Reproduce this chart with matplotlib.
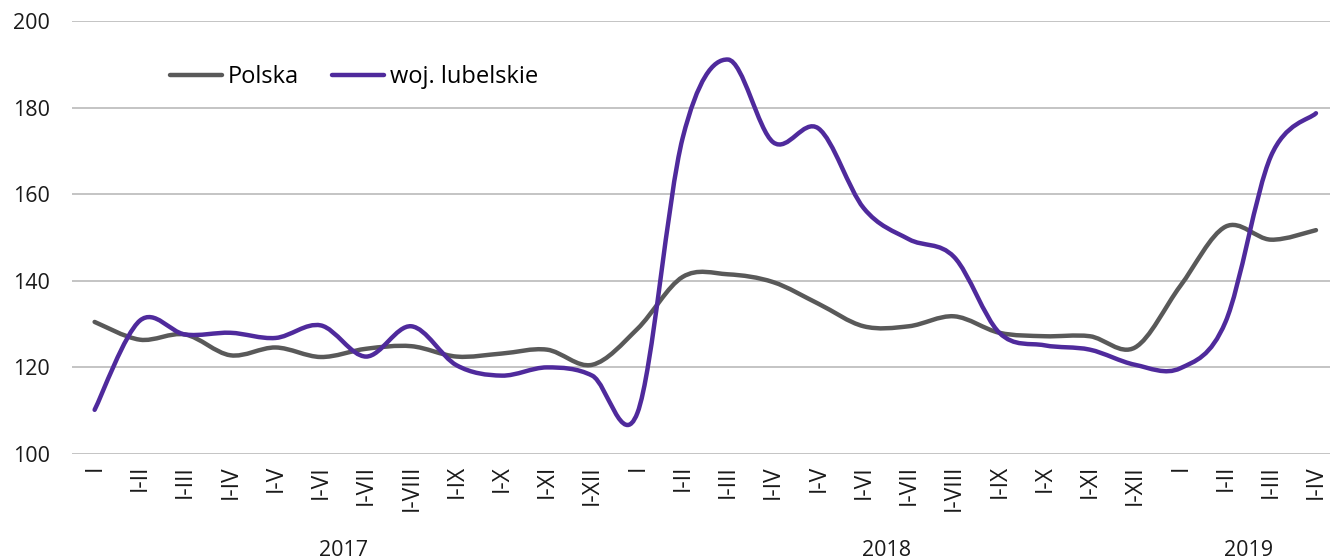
import matplotlib
matplotlib.use("Agg")
import matplotlib.pyplot as plt
from matplotlib.path import Path
from matplotlib.patches import PathPatch
from matplotlib.lines import Line2D
from matplotlib.transforms import blended_transform_factory

plt.rcParams['font.family'] = ['Open Sans', 'DejaVu Sans']

# okresy narastające
miesiace = ["I", "I-II", "I-III", "I-IV", "I-V", "I-VI", "I-VII", "I-VIII",
            "I-IX", "I-X", "I-XI", "I-XII"]
etykiety = miesiace + miesiace + miesiace[:4]
lata = ["2017", "2018", "2019"]
dlugosci_lat = [12, 12, 4]

polska = [130.5, 126.4, 127.6, 122.8, 124.6, 122.4, 124.3, 124.9,
          122.5, 123.2, 124.1, 120.6, 128.9, 140.9, 141.5, 139.7,
          134.7, 129.5, 129.5, 131.8, 128.0, 127.2, 127.2, 124.6,
          138.8, 152.5, 149.5, 151.7]
lubelskie = [110.2, 130.8, 127.6, 128.0, 126.8, 129.7, 122.5, 129.5,
             120.5, 118.1, 120.0, 118.1, 109.5, 173.0, 191.1, 172.0,
             175.2, 156.8, 149.6, 145.5, 128.0, 125.1, 124.1, 120.6,
             119.8, 130.5, 168.7, 178.7]

KOLOR_PL = "#595959"
KOLOR_LUB = "#4f2a9c"
FS = 15.5


def gladka_sciezka(ys):
    # krzywa Beziera jak "wygładzona linia" w Excelu (Catmull-Rom)
    pts = list(enumerate(ys))
    n = len(pts)
    verts = [pts[0]]
    codes = [Path.MOVETO]
    for i in range(n - 1):
        p0 = pts[max(i - 1, 0)]
        p1 = pts[i]
        p2 = pts[i + 1]
        p3 = pts[min(i + 2, n - 1)]
        c1 = (p1[0] + (p2[0] - p0[0]) / 6, p1[1] + (p2[1] - p0[1]) / 6)
        c2 = (p2[0] - (p3[0] - p1[0]) / 6, p2[1] - (p3[1] - p1[1]) / 6)
        verts += [c1, c2, p2]
        codes += [Path.CURVE4] * 3
    return Path(verts, codes)


fig = plt.figure(figsize=(13.3, 5.6), dpi=100)
ax = fig.add_axes([72 / 1330, 106 / 560, 1 - 72 / 1330, 433 / 560])

for dane, kolor in [(polska, KOLOR_PL), (lubelskie, KOLOR_LUB)]:
    ax.add_patch(PathPatch(gladka_sciezka(dane), facecolor="none",
                           edgecolor=kolor, lw=3.2, capstyle="round",
                           joinstyle="round", zorder=3))

ax.set_xlim(-0.5, 27.31)
ax.set_ylim(100, 200)
ax.set_yticks(range(100, 201, 20))
ax.set_xticks(range(len(etykiety)))
ax.set_xticklabels(etykiety, rotation=90, fontsize=16.5, color="#1a1a1a")
ax.tick_params(axis="y", labelsize=FS, labelcolor="#1a1a1a", length=0, pad=16)
ax.tick_params(axis="x", length=0, pad=8)
ax.grid(axis="y", color="#bfbfbf", lw=1.3)
ax.set_axisbelow(True)
for s in ax.spines.values():
    s.set_visible(False)

# podpisy lat
tr = blended_transform_factory(ax.transData, fig.transFigure)
start = 0
for rok, dl in zip(lata, dlugosci_lat):
    ax.text(start + (dl - 1) / 2, 1 - 550 / 560, rok, transform=tr,
            ha="center", va="center", fontsize=FS, color="#1a1a1a")
    start += dl

uchwyty = [Line2D([], [], color=KOLOR_PL, lw=3.2, solid_capstyle="round"),
           Line2D([], [], color=KOLOR_LUB, lw=3.2, solid_capstyle="round")]
fig.legend(uchwyty, ["Polska", "woj. lubelskie"], loc="center left",
           bbox_to_anchor=(170 / 1330, 1 - 77 / 560), ncol=2, frameon=False,
           fontsize=17, handlelength=2.2, handletextpad=0.25,
           columnspacing=1.4, borderpad=0, borderaxespad=0)

fig.savefig("out.png", dpi=100)
